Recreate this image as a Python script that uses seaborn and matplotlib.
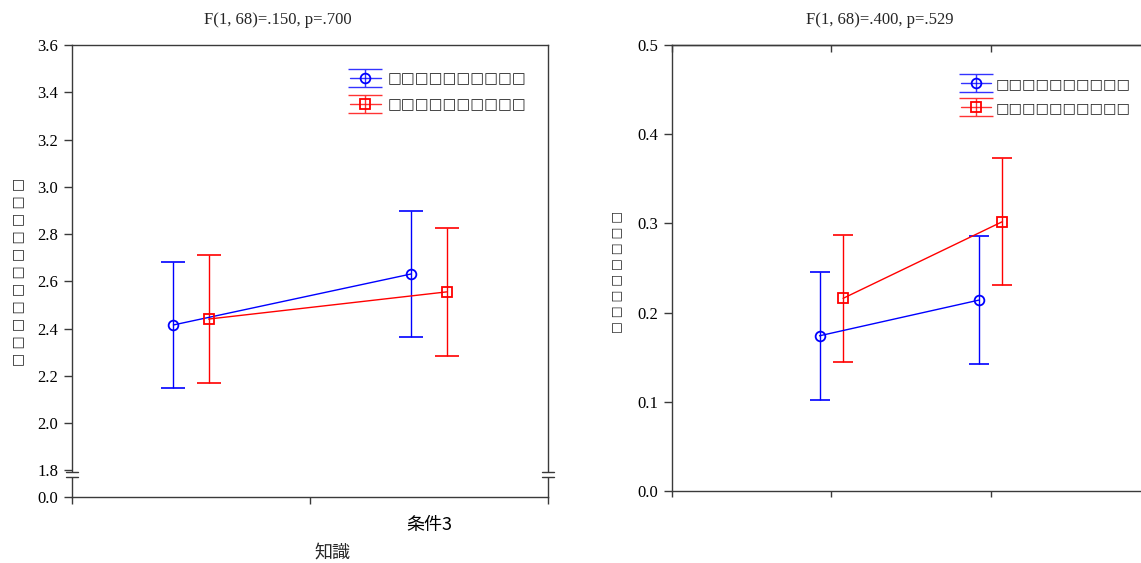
import numpy as np
import pandas as pd
import matplotlib
matplotlib.use("Agg")
import matplotlib.pyplot as plt
import seaborn as sns
from matplotlib.lines import Line2D
from matplotlib.path import Path

# ---------------- data ----------------
categories = ["", "条件3"]
series_names = ["□□□□□□□□□□", "□□□□□□□□□□"]
series_names_r = ["□□□□□□□□□□", "□□□□□□□□□□"]

left_blue_mean = [2.415, 2.631]
left_blue_err = [0.268, 0.268]
left_red_mean = [2.440, 2.555]
left_red_err = [0.271, 0.270]

right_blue_mean = [0.174, 0.214]
right_blue_err = [0.072, 0.072]
right_red_mean = [0.216, 0.302]
right_red_err = [0.071, 0.071]

left_yticks = [0.0, 1.8, 2.0, 2.2, 2.4, 2.6, 2.8, 3.0, 3.2, 3.4, 3.6]
right_yticks = [0.0, 0.1, 0.2, 0.3, 0.4, 0.5]

left_title = "F(1, 68)=.150, p=.700"
right_title = "F(1, 68)=.400, p=.529"
left_ylabel = "□ □ □ □ □ □ □ □ □ □ □"
right_ylabel = "□ □ □ □ □ □ □ □"
left_xlabel = "知識"

# ---------------- style ----------------
sns.set_theme(style="white")
plt.rcParams['font.family'] = ['Liberation Serif', 'DejaVu Sans']
plt.rcParams['axes.edgecolor'] = '#3a3a3a'
plt.rcParams['axes.linewidth'] = 1.0
plt.rcParams['xtick.color'] = '#3a3a3a'
plt.rcParams['ytick.color'] = '#3a3a3a'
plt.rcParams['xtick.labelcolor'] = 'black'
plt.rcParams['ytick.labelcolor'] = 'black'

BLUE = '#0000ff'
RED = '#ff0000'
DODGE = 0.074

fig = plt.figure(figsize=(11.41, 5.63), dpi=100)
W, H = 1141.0, 563.0
axL = fig.add_axes([72 / W, 1 - 497 / H, (548 - 72) / W, (497 - 45) / H])
axR = fig.add_axes([672 / W, 1 - 491 / H, (1150 - 672) / W, (491 - 45) / H])

# broken y scale for left axis (0 .. 1.8 compressed)
K = (1.8 - 1.6868) / 1.8


def fwd(v):
    v = np.asarray(v, dtype=float)
    return np.where(v >= 1.8, v, 1.8 - (1.8 - v) * K)


def inv(u):
    u = np.asarray(u, dtype=float)
    return np.where(u >= 1.8, u, 1.8 - (1.8 - u) / K)


def draw_series(ax, means, errs, color, marker, offset, msize, cap):
    xs = np.arange(len(means)) + offset
    df = pd.DataFrame({"x": xs, "y": means})
    ax.errorbar(xs, means, yerr=errs, fmt='none', ecolor=color,
                elinewidth=1.0, capsize=cap, capthick=1.2, zorder=2)
    sns.lineplot(data=df, x="x", y="y", ax=ax, color=color, marker=marker,
                 markersize=msize, markerfacecolor='none', markeredgecolor=color,
                 markeredgewidth=1.3, linewidth=1.0, errorbar=None, zorder=3,
                 legend=False)


# I-beam marker for legend handles
ibeam = Path([(-1, -0.56), (1, -0.56), (-1, 0.56), (1, 0.56), (0, -0.56), (0, 0.56)],
             [Path.MOVETO, Path.LINETO, Path.MOVETO, Path.LINETO, Path.MOVETO, Path.LINETO])


def legend_handles(msize):
    hb = (Line2D([], [], color=BLUE, lw=1.0, marker=ibeam, markersize=24,
                 markeredgewidth=1.0, markeredgecolor=BLUE, alpha=0.8),
          Line2D([], [], color=BLUE, lw=0, marker='o', markersize=msize,
                 markerfacecolor='none', markeredgecolor=BLUE, markeredgewidth=1.3))
    hr = (Line2D([], [], color=RED, lw=1.0, marker=ibeam, markersize=24,
                 markeredgewidth=1.0, markeredgecolor=RED, alpha=0.8),
          Line2D([], [], color=RED, lw=0, marker='s', markersize=msize,
                 markerfacecolor='none', markeredgecolor=RED, markeredgewidth=1.3))
    return [hb, hr]


# ---------------- left chart ----------------
draw_series(axL, left_blue_mean, left_blue_err, BLUE, 'o', -DODGE, 7, 8.5)
draw_series(axL, left_red_mean, left_red_err, RED, 's', DODGE, 7, 8.5)
axL.set_yscale('function', functions=(fwd, inv))
axL.set_ylim(0, 3.6)
axL.set_xlim(-0.5, 1.5)
axL.set_yticks(left_yticks)
axL.set_yticklabels([f"{v:.1f}" for v in left_yticks], fontsize=12)
axL.yaxis.set_minor_locator(matplotlib.ticker.NullLocator())
axL.set_xticks([-0.5, 0.5, 1.5])
axL.set_xticklabels([])
axL.set_xticks([0, 1], minor=True)
axL.set_xticklabels(categories, minor=True, fontsize=13,
                    fontfamily=['Noto Sans CJK JP', 'DejaVu Sans'])
axL.tick_params(axis='x', which='minor', length=0, pad=14)
axL.tick_params(axis='x', which='major', length=5, width=1, direction='out', bottom=True)
axL.tick_params(axis='y', which='major', length=6, width=1, direction='out', left=True, pad=4)
axL.set_xlabel("")
axL.set_ylabel("")
for s in axL.spines.values():
    s.set_visible(True)

# axis-break marks
for xa in (0.0, 1.0):
    axL.plot([xa, xa], [0.0445, 0.0555], transform=axL.transAxes, color='white',
             lw=3, clip_on=False, zorder=5, solid_capstyle='butt')
    for ya in (0.0445, 0.0555):
        axL.plot([xa - 0.012, xa + 0.012], [ya, ya], transform=axL.transAxes,
                 color='#3a3a3a', lw=1.0, clip_on=False, zorder=6)

axL.legend(legend_handles(7), series_names, loc='upper left',
           bbox_to_anchor=(0.584, 0.942), frameon=False, borderpad=0,
           borderaxespad=0, handlelength=2.1, handletextpad=0.5,
           labelspacing=0.75, prop={'family': 'DejaVu Sans', 'size': 10.5})

fig.text(278 / W, 1 - 20 / H, left_title, ha='center', va='center', fontsize=12)
fig.text(18 / W, 1 - 272 / H, left_ylabel, rotation=90, ha='center', va='center',
         fontsize=10, family='DejaVu Sans')
fig.text(332 / W, 1 - 553 / H, left_xlabel, ha='center', va='center', fontsize=13,
         family=['Noto Sans CJK JP', 'DejaVu Sans'])

# ---------------- right chart ----------------
draw_series(axR, right_blue_mean, right_blue_err, BLUE, 'o', -DODGE, 7, 7.5)
draw_series(axR, right_red_mean, right_red_err, RED, 's', DODGE, 7, 7.5)
axR.set_ylim(0, 0.5)
axR.set_xlim(-1, 2)
axR.set_yticks(right_yticks)
axR.set_yticklabels([f"{v:.1f}" for v in right_yticks], fontsize=12)
axR.set_xticks([-1, 0, 1, 2])
axR.set_xticklabels([])
axR.tick_params(axis='x', which='major', length=4, width=1, direction='out',
                bottom=True, top=False)
axR.tick_params(axis='y', which='major', length=6, width=1, direction='out', left=True, pad=4)
axR.set_xlabel("")
axR.set_ylabel("")
for s in axR.spines.values():
    s.set_visible(True)
# inward ticks on the top spine
sec = axR.secondary_xaxis('top')
sec.set_xticks([-1, 0, 1, 2], labels=[])
sec.tick_params(direction='in', length=5, width=1, colors='#3a3a3a')
sec.spines['top'].set_color('#3a3a3a')

axR.legend(legend_handles(7), series_names_r, loc='upper left',
           bbox_to_anchor=(0.605, 0.928), frameon=False, borderpad=0,
           borderaxespad=0, handlelength=2.1, handletextpad=0.3,
           labelspacing=0.7, prop={'family': 'DejaVu Sans', 'size': 10.3})

fig.text(880 / W, 1 - 20 / H, right_title, ha='center', va='center', fontsize=12)
fig.text(617 / W, 1 - 272 / H, right_ylabel, rotation=90, ha='center', va='center',
         fontsize=9, family='DejaVu Sans')

fig.savefig("out.png", dpi=100)
